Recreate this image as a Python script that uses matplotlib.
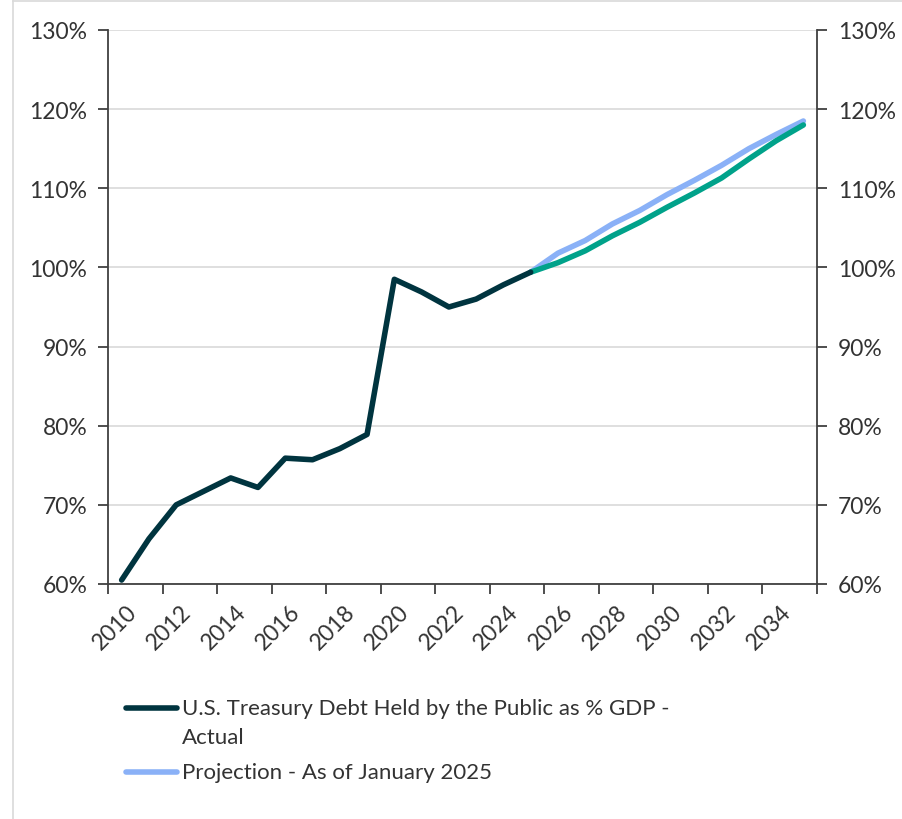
import matplotlib
matplotlib.use("Agg")
import matplotlib.pyplot as plt
from matplotlib.lines import Line2D
import numpy as np

plt.rcParams['font.family'] = ['Lato', 'DejaVu Sans']

years = list(range(2010, 2036))
actual = [60.5, 65.7, 70.0, 71.7, 73.4, 72.2, 75.9, 75.7, 77.1, 78.9,
          98.5, 96.9, 95.0, 96.0, 97.8, 99.4]
proj_years = list(range(2025, 2036))
projection_jan = [99.4, 101.8, 103.4, 105.5, 107.2, 109.2, 111.0, 112.9, 115.0, 116.8, 118.5]
projection_alt = [99.4, 100.6, 102.1, 104.0, 105.7, 107.6, 109.4, 111.3, 113.7, 116.0, 118.0]
tick_years = list(range(2010, 2035, 2))
y_ticks = [60, 70, 80, 90, 100, 110, 120, 130]

DARK = '#00343f'
BLUE = '#8ab1f7'
GREEN = '#00a28a'
TEXT = '#333333'
AXIS = '#404040'

W, H = 903, 820
fig = plt.figure(figsize=(W / 100, H / 100), dpi=100)
ax = fig.add_axes([108 / W, 1 - 585 / H, (817 - 108) / W, (585 - 31) / H])

idx = {y: i for i, y in enumerate(years)}
xa = [idx[y] + 0.5 for y in years[:len(actual)]]
xp = [idx[y] + 0.5 for y in proj_years]

LW = 4.0
ax.plot(xp, projection_jan, color=BLUE, lw=LW, solid_capstyle='round', zorder=3)
ax.plot(xp, projection_alt, color=GREEN, lw=LW, solid_capstyle='round', zorder=4)
ax.plot(xa, actual, color=DARK, lw=LW, solid_capstyle='round', zorder=5)

ax.set_xlim(0, len(years))
ax.set_ylim(60, 130)
ax.set_yticks(y_ticks)
ax.set_yticklabels([f"{v}%" for v in y_ticks])
ax.yaxis.grid(True, color='#d9d9d9', lw=1.2)
ax.set_axisbelow(True)

ax.set_xticks(np.arange(0, len(years) + 1, 2))
ax.set_xticklabels([])
for y in tick_years:
    ax.text(idx[y] + 0.65, -0.03, str(y), transform=ax.get_xaxis_transform(),
            rotation=45, ha='right', va='top', rotation_mode='anchor',
            fontsize=16.5, color=TEXT)

ax.tick_params(axis='x', direction='out', length=7, width=1.3, color=AXIS)
ax.tick_params(axis='y', direction='out', length=7, width=1.3, color=AXIS,
               labelsize=16.5, labelcolor=TEXT, pad=8, left=True, right=True,
               labelleft=True, labelright=True)

ax.spines['top'].set_visible(False)
for side in ['left', 'right', 'bottom']:
    ax.spines[side].set_color(AXIS)
    ax.spines[side].set_linewidth(1.3)

# legend drawn below the plot
def px(x, y):
    return x / W, 1 - y / H

for (y_line, color) in [(709, DARK), (773, BLUE)]:
    x0, yy = px(126, y_line)
    x1, _ = px(177, y_line)
    fig.add_artist(Line2D([x0, x1], [yy, yy], color=color, lw=LW,
                          solid_capstyle='round', transform=fig.transFigure))

LEG_FS = 16
tx, ty = px(182, 709)
fig.text(tx, ty, "U.S. Treasury Debt Held by the Public as % GDP -", fontsize=LEG_FS,
         color=TEXT, va='center', ha='left')
tx, ty = px(182, 738)
fig.text(tx, ty, "Actual", fontsize=LEG_FS, color=TEXT, va='center', ha='left')
tx, ty = px(182, 773)
fig.text(tx, ty, "Projection - As of January 2025", fontsize=LEG_FS, color=TEXT,
         va='center', ha='left')

# chart area outline
fig.add_artist(Line2D([13.5 / W, 13.5 / W], [0, 1 - 2 / H], color='#d9d9d9', lw=1.2,
                      transform=fig.transFigure))
fig.add_artist(Line2D([13.5 / W, 1], [1 - 2 / H, 1 - 2 / H], color='#d9d9d9', lw=1.2,
                      transform=fig.transFigure))

fig.savefig('out.png', dpi=100)
